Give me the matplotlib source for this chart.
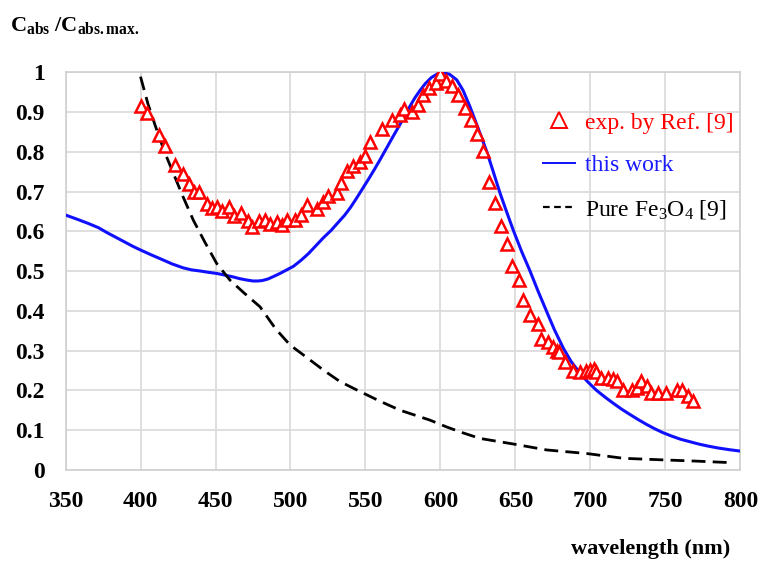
import matplotlib
matplotlib.use("Agg")
import matplotlib.pyplot as plt
from matplotlib.lines import Line2D

plt.rcParams['font.family'] = ['Liberation Serif', 'DejaVu Serif']
plt.rcParams['mathtext.fontset'] = 'custom'
plt.rcParams['mathtext.rm'] = 'Liberation Serif'
plt.rcParams['mathtext.it'] = 'Liberation Serif:italic'
plt.rcParams['mathtext.bf'] = 'Liberation Serif:bold'

# experimental points (Ref. [9])
exp_x = [400.3, 404.5, 412, 416.3, 423, 428, 432, 435.7, 439, 444, 447.5, 450.8,
         454.5, 459, 462.5, 467, 471.9, 474.5, 479, 483, 486.3, 491.2, 494.5,
         497.9, 503, 507, 510.8, 517.5, 521.9, 525.2, 530.8, 534, 537.9, 541.9,
         546.3, 550, 553, 561, 568, 573, 575.7, 581.2, 585.2, 588.5, 592.3, 597,
         599.7, 604, 607.5, 611.9, 616.3, 620.3, 624.1, 628.5, 632.3, 636.3,
         640.2, 644.1, 647.5, 652.5, 654.8, 659.7, 664.8, 666.8, 671.9, 674.8,
         677.5, 679.2, 683, 688.1, 693, 697, 699.7, 702.5, 704, 707, 711.9,
         715.2, 718, 721.5, 728, 730.8, 733.7, 737.5, 740.3, 745.2, 750.3,
         757.5, 760.8, 765.2, 768.5]
exp_y = [0.915, 0.897, 0.842, 0.815, 0.767, 0.743, 0.719, 0.698, 0.698, 0.669,
         0.658, 0.662, 0.652, 0.660, 0.638, 0.647, 0.627, 0.612, 0.627, 0.628,
         0.618, 0.624, 0.616, 0.628, 0.628, 0.640, 0.666, 0.656, 0.674, 0.689,
         0.697, 0.722, 0.752, 0.764, 0.775, 0.789, 0.825, 0.857, 0.880, 0.893,
         0.907, 0.899, 0.918, 0.943, 0.960, 0.972, 0.996, 0.978, 0.966, 0.943,
         0.911, 0.880, 0.845, 0.802, 0.723, 0.670, 0.613, 0.568, 0.513, 0.477,
         0.427, 0.389, 0.367, 0.329, 0.321, 0.310, 0.299, 0.296, 0.270, 0.249,
         0.247, 0.249, 0.251, 0.253, 0.247, 0.230, 0.230, 0.228, 0.223, 0.201,
         0.201, 0.207, 0.223, 0.211, 0.194, 0.194, 0.194, 0.201, 0.201, 0.186,
         0.173]

# this work
calc_x = [350, 358, 365, 372, 377.5, 384, 390, 395, 400, 407, 415, 421, 428.5,
          434, 440, 445, 450.8, 456, 462, 466, 470, 475, 478, 481, 485, 488.5,
          493, 497.5, 502, 507, 512, 517, 522, 527, 531, 536, 540, 544, 548,
          552, 556, 560, 564, 568, 573, 577, 580, 583, 586.3, 590, 594, 598,
          602, 606, 610.8, 615, 619.7, 625, 630.8, 635, 639.7, 644, 648.5, 654,
          659.7, 665, 670.8, 676, 681.9, 687, 693, 698, 704, 710, 715, 721,
          726, 732, 737.5, 743, 748, 754, 760, 766, 772, 778, 785, 792, 800]
calc_y = [0.641, 0.630, 0.620, 0.609, 0.597, 0.584, 0.572, 0.562, 0.553, 0.541,
          0.528, 0.518, 0.508, 0.503, 0.500, 0.497, 0.494, 0.490, 0.485, 0.481,
          0.478, 0.475, 0.475, 0.476, 0.480, 0.486, 0.494, 0.503, 0.512, 0.527,
          0.544, 0.564, 0.584, 0.602, 0.619, 0.640, 0.660, 0.683, 0.707, 0.731,
          0.756, 0.782, 0.809, 0.836, 0.869, 0.897, 0.917, 0.936, 0.954, 0.972,
          0.987, 0.996, 0.999, 0.995, 0.981, 0.955, 0.913, 0.860, 0.801, 0.752,
          0.696, 0.650, 0.603, 0.550, 0.500, 0.450, 0.398, 0.352, 0.306, 0.273,
          0.243, 0.222, 0.200, 0.182, 0.168, 0.152, 0.140, 0.126, 0.114, 0.103,
          0.094, 0.085, 0.077, 0.071, 0.065, 0.060, 0.055, 0.051, 0.047]

# pure Fe3O4 [9]
fe_x = [400, 405, 410.8, 416, 421.9, 428, 435.2, 443, 450.8, 459.7, 469, 479.7,
        490, 499.7, 510, 521.9, 533, 546.3, 560, 573, 593, 604, 615, 626.3,
        648.5, 670.8, 697.5, 721.9, 748.5, 770, 794]
fe_y = [0.989, 0.92, 0.855, 0.80, 0.746, 0.69, 0.628, 0.572, 0.519, 0.477,
        0.445, 0.410, 0.355, 0.314, 0.285, 0.251, 0.222, 0.197, 0.172, 0.150,
        0.125, 0.108, 0.093, 0.079, 0.065, 0.050, 0.041, 0.029, 0.025, 0.022,
        0.018]

x_ticks = [350, 400, 450, 500, 550, 600, 650, 700, 750, 800]
y_ticks = [0, 0.1, 0.2, 0.3, 0.4, 0.5, 0.6, 0.7, 0.8, 0.9, 1]
y_labels = ['0', '0.1', '0.2', '0.3', '0.4', '0.5', '0.6', '0.7', '0.8', '0.9', '1']

fig = plt.figure(figsize=(7.6, 5.62), dpi=100)
ax = fig.add_axes([0.0862, 0.164, 0.8881, 0.7074])

ax.plot(exp_x, exp_y, linestyle='none', marker='^', markersize=8,
        markerfacecolor='white', markeredgecolor='red', markeredgewidth=1.8,
        zorder=4)
ax.plot(calc_x, calc_y, color='#1010ff', lw=2.2, zorder=3)
ax.plot(fe_x, fe_y, color='black', lw=2, linestyle=(0, (5, 2.6)), zorder=3)

ax.set_xlim(350, 800)
ax.set_ylim(0, 1)
ax.set_xticks(x_ticks)
ax.set_yticks(y_ticks)
ax.set_yticklabels(y_labels)
ax.grid(True, color='#d9d9d9', lw=1.2)
ax.set_axisbelow(True)
for s in ax.spines.values():
    s.set_color('#d0d0d0')
    s.set_linewidth(1.2)
ax.tick_params(length=0, labelsize=17, pad=15)
for lab in ax.get_xticklabels() + ax.get_yticklabels():
    lab.set_fontweight('bold')

handles = [
    Line2D([], [], linestyle='none', marker='^', markersize=11,
           markerfacecolor='white', markeredgecolor='red', markeredgewidth=1.4),
    Line2D([], [], color='#1010ff', lw=1.4),
    Line2D([], [], color='black', lw=1.6, linestyle=(0, (3, 2))),
]
labels = ['exp. by Ref. [9]', 'this work', r'Pure Fe$_3$O$_4$ [9]']
leg = ax.legend(handles, labels, loc='upper left', bbox_to_anchor=(0.708, 0.90),
                frameon=False, fontsize=17, handlelength=1.35, handletextpad=0.4,
                labelspacing=0.9, borderpad=0, borderaxespad=0,
                labelcolor=['red', '#1a1aff', 'black'])

fig.text(0.013, 0.945, r'$\mathbf{C_{abs}\ /C_{abs.max.}}$', fontsize=16)
fig.text(0.961, 0.015, 'wavelength (nm)', fontsize=16, fontweight='bold', ha='right')

fig.savefig('out.png', dpi=100)
